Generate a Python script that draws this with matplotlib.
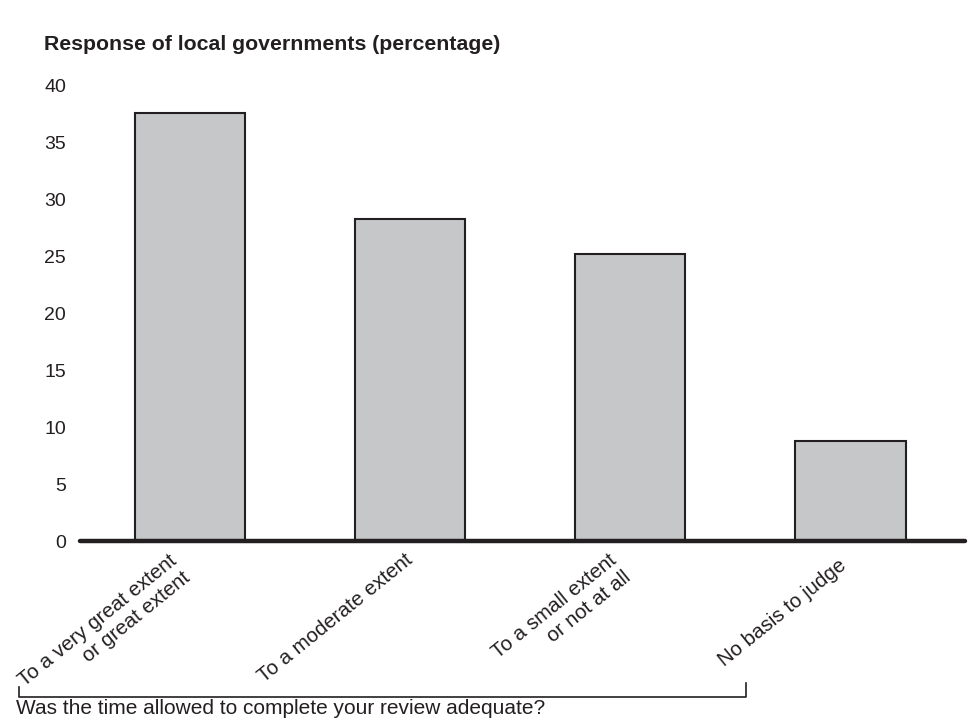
import matplotlib
matplotlib.use("Agg")
import matplotlib.pyplot as plt
from matplotlib.lines import Line2D
from matplotlib.transforms import blended_transform_factory, offset_copy

categories = ["To a very great extent\nor great extent",
              "To a moderate extent",
              "To a small extent\nor not at all",
              "No basis to judge"]
values = [37.6, 28.3, 25.2, 8.8]
yticks = [0, 5, 10, 15, 20, 25, 30, 35, 40]
title = "Response of local governments (percentage)"
question = "Was the time allowed to complete your review adequate?"

# label nudges in pixels (dx right, dy down) - styling only
label_nudge = [(-9, 9), (0, 0), (-9, 9), (-7, 5)]

plt.rcParams['font.family'] = ['Liberation Sans', 'DejaVu Sans']

W, H = 968, 721
fig = plt.figure(figsize=(W / 100, H / 100), dpi=100)
ax = fig.add_axes([80 / W, (H - 541) / H, (965 - 80) / W, (541 - 86) / H])

x = list(range(len(categories)))
ax.bar(x, values, width=0.5, color="#c6c7c9", edgecolor="#231f20",
       linewidth=1.5, zorder=2)
ax.set_xlim(-0.5, 3.52)
ax.set_ylim(0, 40)
ax.set_yticks(yticks)
ax.set_yticklabels([str(v) for v in yticks], fontsize=14, color="#231f20")
ax.tick_params(axis='y', length=0, pad=10)
ax.set_xticks(x)
ax.set_xticklabels([])
ax.tick_params(axis='x', length=0)

base = blended_transform_factory(ax.transData, ax.transAxes)
for i, lab in enumerate(categories):
    dx, dy = label_nudge[i]
    tr = offset_copy(base, fig=fig, x=dx, y=-16.7 - dy, units='dots')
    ax.text(i, 0, lab, transform=tr, rotation=39, ha='right', va='center',
            rotation_mode='anchor', fontsize=14.8, color="#231f20",
            multialignment='right', linespacing=1.2, clip_on=False)

for s in ['top', 'right', 'left']:
    ax.spines[s].set_visible(False)
ax.spines['bottom'].set_linewidth(3.2)
ax.spines['bottom'].set_color("#231f20")
ax.spines['bottom'].set_capstyle('round')
ax.spines['bottom'].set_zorder(3)

fig.text(44 / W, 1 - 45 / H, title, fontsize=15.3, fontweight='bold',
         color="#231f20", va='center', ha='left')

# bracket
bx = [19, 19, 746, 746]
by = [687, 697, 697, 683]
fig.add_artist(Line2D([v / W for v in bx], [1 - v / H for v in by],
                      color="#231f20", lw=1.2, transform=fig.transFigure))
fig.text(16 / W, 1 - 709 / H, question, fontsize=15, color="#231f20",
         va='center', ha='left')

fig.savefig("out.png", dpi=100, facecolor='white')
